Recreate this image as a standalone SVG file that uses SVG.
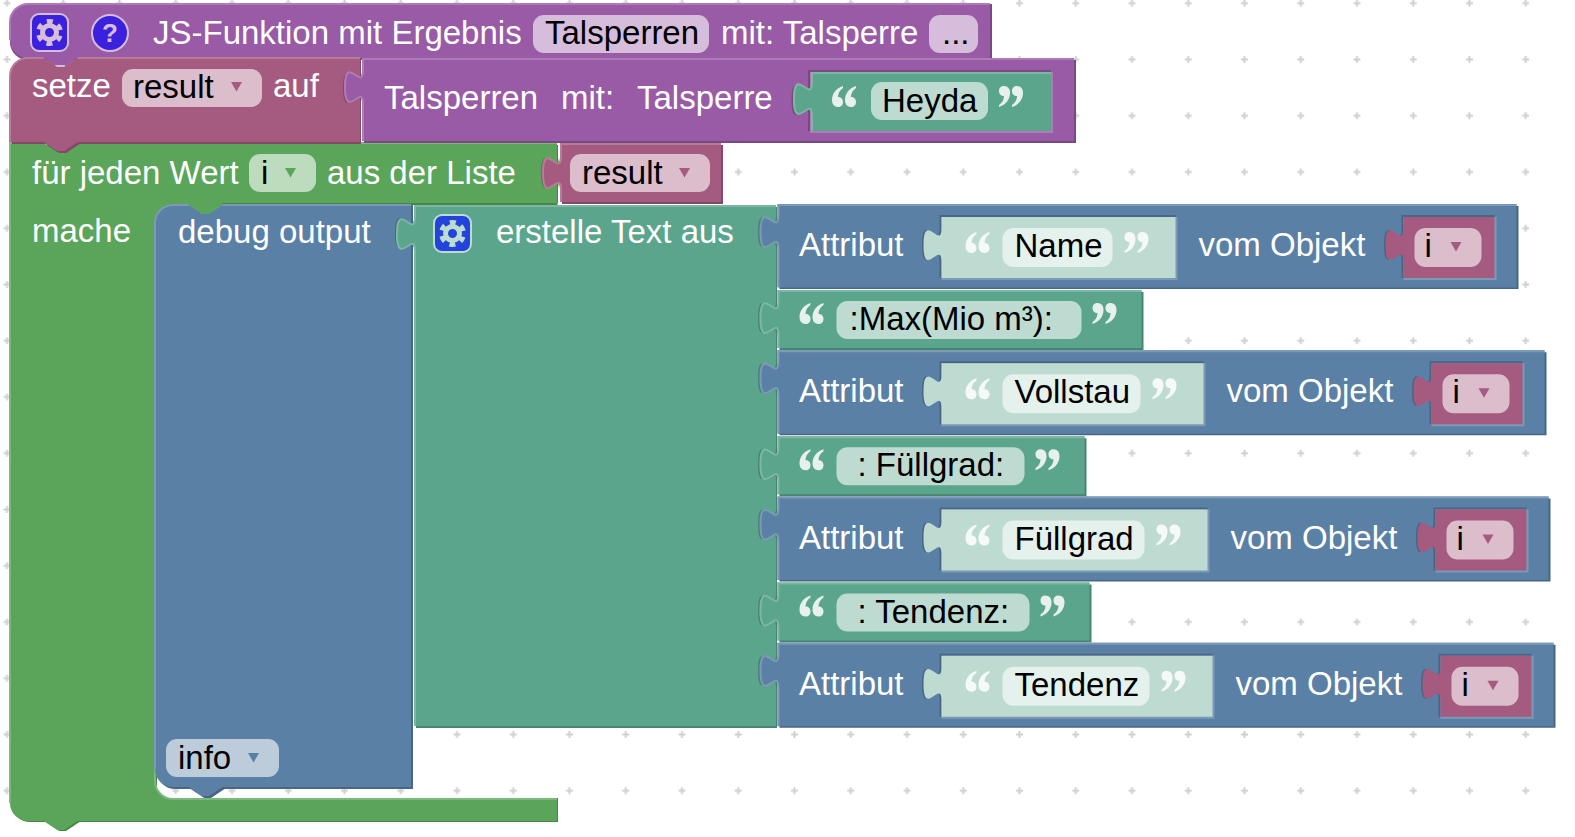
<svg xmlns="http://www.w3.org/2000/svg" width="1575" height="837" viewBox="0 0 1575 837">
<style>
text{font-family:"Liberation Sans",Arial,sans-serif;font-size:33px;white-space:pre}
.w{fill:#fff}.k{fill:#000}
.hl{fill:none;stroke-width:2}
.pu{fill:#995ba5}.pud{fill:#7a4984}.puh{stroke:#ad7cb7}.pup{fill:#d6bddb}
.re{fill:#a55b80}.red{fill:#844966}.reh{stroke:#b77c99}.rep{fill:#dbbdcc}
.gr{fill:#5ba55b}.grd{fill:#498449}.grh{stroke:#7cb77c}.grp{fill:#bddbbd}
.te{fill:#5ba58c}.ted{fill:#498470}.teh{stroke:#7cb7a3}.tep{fill:#bddbd1}
.bl{fill:#5b80a5}.bld{fill:#496684}.blh{stroke:#7c99b7}.blp{fill:#bdccdb}.bll{fill:#7c99b7}
.sh{fill:#bddbd1}.shp{fill:#e4f1ed}
.q{fill:#fff;opacity:.85}
</style>
<defs>
<pattern id="grid" patternUnits="userSpaceOnUse" x="-21.1" y="-24.9" width="56.25" height="56.25">
<path d="M24.6,28.1H31.6M28.1,24.6V31.6" stroke="#d0d0d0" stroke-width="2" fill="none"/>
</pattern>
<path id="tab" d="M0,33.8c0,-22.5 -18,18 -18,-16.9s18,5.6 18,-16.9Z"/>
<g id="qo"><path id="comma" d="M11,0C4,2 0,8 0,14C0,18 2,21 6,21C9,21 11,19 11,16C11,13 9,11 6,11C6,7 8,4 11,2Z"/><use href="#comma" x="13"/></g>
<g id="qc"><use href="#qo" transform="rotate(180 12 10.5)"/></g>
<g id="gear" fill="none"><circle r="7" stroke-width="5"/><circle r="11" stroke-width="5" stroke-dasharray="5.76" stroke-dashoffset="2.88" transform="rotate(30)"/></g>
<path id="tri" d="M0,0H11L5.5,9.5Z"/>
</defs>
<rect width="1575" height="837" fill="#fff"/>
<rect width="1575" height="837" fill="url(#grid)"/>
<g id="connectors"/>

<g id="js-function">
<path class="pud" d="M10,22A18,18 0 0 1 28,4H992V60H28A18,18 0 0 1 10,42Z"/>
<path class="pu" d="M10,22A18,18 0 0 1 28,4H990V58H77.5l-13.5,9 -6.75,0 -13.5,-9H28A18,18 0 0 1 10,40Z"/>
<path class="hl puh" d="M10,40V22A18,18 0 0 1 28,4H990"/>
<rect x="31" y="14" width="37" height="37" rx="8" fill="#3b20dd" stroke="#d6bddb" stroke-width="2"/>
<use href="#gear" transform="translate(49.5,32.5)" stroke="#d6bddb"/>
<circle cx="110" cy="33" r="18" fill="#3b20dd" stroke="#d6bddb" stroke-width="2"/>
<text x="110" y="42" text-anchor="middle" style="font-size:26px;font-weight:bold;fill:#d6bddb">?</text>
<text class="w" x="153" y="44">JS-Funktion mit Ergebnis</text>
<rect class="pup" x="533" y="15" width="176" height="38" rx="11"/>
<text class="k" x="545" y="44">Talsperren</text>
<text class="w" x="721" y="44">mit: Talsperre</text>
<rect class="pup" x="929" y="15" width="49" height="38" rx="11"/>
<text class="k" x="942" y="44">...</text>
</g>

<g id="for-each">
<path class="grd" d="M12,145H558V203H157V815H177V798H558V822H79.500l-13.500,9 -6.750,0 -13.500,-9H30A18,18 0 0 1 12,804Z"/>
<path class="gr" d="M10,143H43.75l13.5,9 6.75,0 13.5,-9H557V205H222.5l-13.5,9 -6.75,0 -13.5,-9H173A18,18 0 0 0 155,223V781A18,18 0 0 0 173,799H557V821H77.5l-13.5,9 -6.75,0 -13.5,-9H28A18,18 0 0 1 10,803Z"/>
<path class="hl grh" d="M10,803V143H43.75M77.5,143H557M155,223V781A18,18 0 0 0 173,799H557"/>
<rect class="grd" x="222.500" y="203" width="335" height="2"/>
<text class="w" x="32" y="184">für jeden Wert</text>
<rect class="grp" x="249" y="154" width="67" height="38" rx="11"/>
<text class="k" x="261" y="184">i</text>
<use href="#tri" class="gr" x="285" y="168"/>
<text class="w" x="327" y="184">aus der Liste</text>
<text class="w" x="32" y="242">mache</text>
</g>

<g id="set-result">
<path class="red" d="M10,76A18,18 0 0 1 28,58H43.75l13.5,9 6.75,0 13.5,-9H361V144H79.5l-13.5,9 -6.75,0 -13.5,-9H12Z"/>
<rect x="55" y="65" width="10" height="2" fill="#d6bddb"/>
<path class="re" d="M10,76A18,18 0 0 1 28,58H43.75l13.5,9 6.75,0 13.5,-9H360V142H77.5l-13.5,9 -6.75,0 -13.5,-9H10Z"/>
<path class="hl reh" d="M10,142V76A18,18 0 0 1 28,58H43.75M77.5,58H360"/>
<text class="w" x="32" y="97">setze</text>
<rect class="rep" x="122" y="69" width="140" height="38" rx="11"/>
<text class="k" x="133" y="98">result</text>
<use href="#tri" class="re" x="231" y="82"/>
<text class="w" x="273" y="97">auf</text>
</g>

<g id="call-talsperren">
<use href="#tab" class="red" x="361" y="71"/>
<path class="pud" transform="translate(2,2)" d="M362,58H1074V141H362Z"/>
<path class="pu" d="M362,58H1074V141H362V103.800c0,-22.500 -18,18 -18,-16.900s18,5.600 18,-16.900Z"/>
<path class="hl puh" d="M363,141V104c0,-22.500 -18,18 -18,-16.900s18,5.600 18,-16.900V59H1074"/>
<text class="w" x="384" y="109">Talsperren</text>
<text class="w" x="561" y="109">mit:</text>
<text class="w" x="637" y="109">Talsperre</text>
</g>

<g id="string-heyda">
<rect class="pud" x="808" y="70" width="243" height="61"/>
<rect x="810" y="72" width="243" height="61" fill="#ad7cb7"/>
<use href="#tab" class="pud" x="809.500" y="83"/>
<path class="te" d="M811,72H1051V131H811V116c0,-22.500 -18,18 -18,-16.900s18,5.600 18,-16.900Z"/>
<path class="hl teh" d="M812,131V116c0,-22.500 -18,18 -18,-16.900s18,5.600 18,-16.900V73H1051"/>
<use href="#qo" class="q" x="832" y="86"/>
<rect class="tep" x="871" y="82" width="117" height="38" rx="11"/>
<text class="k" x="882" y="112">Heyda</text>
<use href="#qc" class="q" x="999" y="86"/>
</g>

<g id="var-result">
<use href="#tab" class="grd" x="559" y="156"/>
<path class="red" transform="translate(2,2)" d="M560,143H721V202H560Z"/>
<path class="re" d="M560,143H721V202H560V189.800c0,-22.500 -18,18 -18,-16.900s18,5.600 18,-16.900Z"/>
<path class="hl reh" d="M561,202V190c0,-22.500 -18,18 -18,-16.900s18,5.600 18,-16.900V144H721"/>
<rect class="rep" x="570" y="154" width="140" height="38" rx="11"/>
<text class="k" x="582" y="184">result</text>
<use href="#tri" class="re" x="679" y="168"/>
</g>

<g id="debug-output">
<path class="bld" d="M155,223A18,18 0 0 1 173,205H188.750l13.500,9 6.750,0 13.500,-9H413V789H224.500l-13.500,9 -6.750,0 -13.500,-9H175A18,18 0 0 1 157,771Z"/>
<path class="bl" d="M155,223A18,18 0 0 1 173,205H188.750l13.500,9 6.750,0 13.500,-9H411V787H222.500l-13.500,9 -6.750,0 -13.500,-9H173A18,18 0 0 1 155,769Z"/>
<path class="hl blh" d="M155,769V223A18,18 0 0 1 173,205H188.750M222.500,205H411"/>
<text class="w" x="178" y="243">debug output</text>
<rect class="blp" x="166" y="739" width="113" height="38" rx="11"/>
<text class="k" x="178" y="769">info</text>
<use href="#tri" class="bl" x="248" y="753"/>
</g>

<g id="create-text">
<use href="#tab" class="bld" x="413" y="216"/>
<path class="ted" transform="translate(2,2)" d="M414,205H775V726H414Z"/>
<path class="te" d="M414,205H776V726H414V250.800c0,-22.500 -18,18 -18,-16.900s18,5.600 18,-16.900Z"/>
<path class="hl teh" d="M415,726V251c0,-22.500 -18,18 -18,-16.900s18,5.600 18,-16.900V206H776"/>
<rect x="434" y="215" width="37" height="37" rx="8" fill="#2244dd" stroke="#bddbd1" stroke-width="2"/>
<use href="#gear" transform="translate(452.500,233.500)" stroke="#bddbd1"/>
<text class="w" x="496" y="243">erstelle Text aus</text>
</g>

<g id="attr-name" transform="translate(777.500,204)">
<use href="#tab" class="ted" x="-1.500" y="11"/>
<path class="bld" transform="translate(2,2)" d="M0,0H739V83H0Z"/>
<path class="bl" d="M0,0H739V83.500H0V45c0,-22.500 -18,18 -18,-16.900s18,5.600 18,-16.900Z"/>
<path class="hl blh" d="M1,83V45c0,-22.500 -18,18 -18,-16.900s18,5.600 18,-16.900V1H739"/>
<text class="w" x="21.500" y="52">Attribut</text>
<rect class="bld" x="162" y="11" width="236" height="63"/><rect class="bll" x="164" y="13" width="236" height="63"/>
<use href="#tab" class="bld" x="162.500" y="24"/>
<path class="sh" d="M164,13H398V74H164V58c0,-22.500 -18,18 -18,-16.900s18,5.600 18,-16.900Z"/>
<use href="#qo" class="q" x="188" y="28"/>
<rect class="shp" x="225" y="24" width="110" height="39" rx="11"/>
<text class="k" x="237" y="53">Name</text>
<use href="#qc" class="q" x="347" y="28"/>
<text class="w" x="421" y="52">vom Objekt</text>
<rect class="bld" x="624" y="11" width="93" height="63"/><rect class="bll" x="626" y="13" width="93" height="63"/>
<use href="#tab" class="bld" x="624.500" y="24"/>
<path class="re" d="M626,13H717V74H626V58c0,-22.500 -18,18 -18,-16.900s18,5.600 18,-16.900Z"/>
<rect class="rep" x="637" y="24" width="67" height="39" rx="11"/>
<text class="k" x="647" y="53">i</text>
<use href="#tri" class="re" x="673" y="38"/>
</g>

<g id="text-max" transform="translate(777.500,290)">
<use href="#tab" class="ted" x="-1.500" y="11"/>
<path class="ted" transform="translate(2,2)" d="M0,0H364V58H0Z"/>
<path class="te" d="M0,0H364V58H0V45c0,-22.500 -18,18 -18,-16.900s18,5.600 18,-16.900Z"/>
<path class="hl teh" d="M1,58V45c0,-22.500 -18,18 -18,-16.900s18,5.600 18,-16.900V1H364"/>
<use href="#qo" class="q" x="22" y="13"/>
<rect class="tep" x="59" y="11" width="245" height="38" rx="11"/>
<text class="k" x="72" y="40">:Max(Mio m³):</text>
<use href="#qc" class="q" x="315" y="13"/>
</g>

<g id="attr-vollstau" transform="translate(777.500,350.250)">
<use href="#tab" class="ted" x="-1.500" y="11"/>
<path class="bld" transform="translate(2,2)" d="M0,0H767V83H0Z"/>
<path class="bl" d="M0,0H767V83.500H0V45c0,-22.500 -18,18 -18,-16.900s18,5.600 18,-16.900Z"/>
<path class="hl blh" d="M1,83V45c0,-22.500 -18,18 -18,-16.900s18,5.600 18,-16.900V1H767"/>
<text class="w" x="21.500" y="52">Attribut</text>
<rect class="bld" x="162" y="11" width="264" height="63"/><rect class="bll" x="164" y="13" width="264" height="63"/>
<use href="#tab" class="bld" x="162.500" y="24"/>
<path class="sh" d="M164,13H426V74H164V58c0,-22.500 -18,18 -18,-16.900s18,5.600 18,-16.900Z"/>
<use href="#qo" class="q" x="188" y="28"/>
<rect class="shp" x="225" y="24" width="138" height="39" rx="11"/>
<text class="k" x="237" y="53">Vollstau</text>
<g transform="translate(28,0)">
<use href="#qc" class="q" x="347" y="28"/>
<text class="w" x="421" y="52">vom Objekt</text>
<rect class="bld" x="624" y="11" width="93" height="63"/><rect class="bll" x="626" y="13" width="93" height="63"/>
<use href="#tab" class="bld" x="624.500" y="24"/>
<path class="re" d="M626,13H717V74H626V58c0,-22.500 -18,18 -18,-16.900s18,5.600 18,-16.900Z"/>
<rect class="rep" x="637" y="24" width="67" height="39" rx="11"/>
<text class="k" x="647" y="53">i</text>
<use href="#tri" class="re" x="673" y="38"/>
</g>
</g>

<g id="text-fuellgrad" transform="translate(777.500,436.250)">
<use href="#tab" class="ted" x="-1.500" y="11"/>
<path class="ted" transform="translate(2,2)" d="M0,0H307V58H0Z"/>
<path class="te" d="M0,0H307V58H0V45c0,-22.500 -18,18 -18,-16.900s18,5.600 18,-16.900Z"/>
<path class="hl teh" d="M1,58V45c0,-22.500 -18,18 -18,-16.900s18,5.600 18,-16.900V1H307"/>
<use href="#qo" class="q" x="22" y="13"/>
<rect class="tep" x="59" y="11" width="188" height="38" rx="11"/>
<text class="k" x="80" y="40">: Füllgrad:</text>
<use href="#qc" class="q" x="258" y="13"/>
</g>

<g id="attr-fuellgrad" transform="translate(777.500,496.500)">
<use href="#tab" class="ted" x="-1.500" y="11"/>
<path class="bld" transform="translate(2,2)" d="M0,0H771V83H0Z"/>
<path class="bl" d="M0,0H771V83.500H0V45c0,-22.500 -18,18 -18,-16.900s18,5.600 18,-16.900Z"/>
<path class="hl blh" d="M1,83V45c0,-22.500 -18,18 -18,-16.900s18,5.600 18,-16.900V1H771"/>
<text class="w" x="21.500" y="52">Attribut</text>
<rect class="bld" x="162" y="11" width="268" height="63"/><rect class="bll" x="164" y="13" width="268" height="63"/>
<use href="#tab" class="bld" x="162.500" y="24"/>
<path class="sh" d="M164,13H430V74H164V58c0,-22.500 -18,18 -18,-16.900s18,5.600 18,-16.900Z"/>
<use href="#qo" class="q" x="188" y="28"/>
<rect class="shp" x="225" y="24" width="142" height="39" rx="11"/>
<text class="k" x="237" y="53">Füllgrad</text>
<g transform="translate(32,0)">
<use href="#qc" class="q" x="347" y="28"/>
<text class="w" x="421" y="52">vom Objekt</text>
<rect class="bld" x="624" y="11" width="93" height="63"/><rect class="bll" x="626" y="13" width="93" height="63"/>
<use href="#tab" class="bld" x="624.500" y="24"/>
<path class="re" d="M626,13H717V74H626V58c0,-22.500 -18,18 -18,-16.900s18,5.600 18,-16.900Z"/>
<rect class="rep" x="637" y="24" width="67" height="39" rx="11"/>
<text class="k" x="647" y="53">i</text>
<use href="#tri" class="re" x="673" y="38"/>
</g>
</g>

<g id="text-tendenz" transform="translate(777.500,582.500)">
<use href="#tab" class="ted" x="-1.500" y="11"/>
<path class="ted" transform="translate(2,2)" d="M0,0H312V58H0Z"/>
<path class="te" d="M0,0H312V58H0V45c0,-22.500 -18,18 -18,-16.900s18,5.600 18,-16.900Z"/>
<path class="hl teh" d="M1,58V45c0,-22.500 -18,18 -18,-16.900s18,5.600 18,-16.900V1H312"/>
<use href="#qo" class="q" x="22" y="13"/>
<rect class="tep" x="59" y="11" width="193" height="38" rx="11"/>
<text class="k" x="80" y="40">: Tendenz:</text>
<use href="#qc" class="q" x="263" y="13"/>
</g>

<g id="attr-tendenz" transform="translate(777.500,642.750)">
<use href="#tab" class="ted" x="-1.500" y="11"/>
<path class="bld" transform="translate(2,2)" d="M0,0H776V83H0Z"/>
<path class="bl" d="M0,0H776V83.500H0V45c0,-22.500 -18,18 -18,-16.900s18,5.600 18,-16.900Z"/>
<path class="hl blh" d="M1,83V45c0,-22.500 -18,18 -18,-16.900s18,5.600 18,-16.900V1H776"/>
<text class="w" x="21.500" y="52">Attribut</text>
<rect class="bld" x="162" y="11" width="273" height="63"/><rect class="bll" x="164" y="13" width="273" height="63"/>
<use href="#tab" class="bld" x="162.500" y="24"/>
<path class="sh" d="M164,13H435V74H164V58c0,-22.500 -18,18 -18,-16.900s18,5.600 18,-16.900Z"/>
<use href="#qo" class="q" x="188" y="28"/>
<rect class="shp" x="225" y="24" width="147" height="39" rx="11"/>
<text class="k" x="237" y="53">Tendenz</text>
<g transform="translate(37,0)">
<use href="#qc" class="q" x="347" y="28"/>
<text class="w" x="421" y="52">vom Objekt</text>
<rect class="bld" x="624" y="11" width="93" height="63"/><rect class="bll" x="626" y="13" width="93" height="63"/>
<use href="#tab" class="bld" x="624.500" y="24"/>
<path class="re" d="M626,13H717V74H626V58c0,-22.500 -18,18 -18,-16.900s18,5.600 18,-16.900Z"/>
<rect class="rep" x="637" y="24" width="67" height="39" rx="11"/>
<text class="k" x="647" y="53">i</text>
<use href="#tri" class="re" x="673" y="38"/>
</g>
</g>
</svg>
